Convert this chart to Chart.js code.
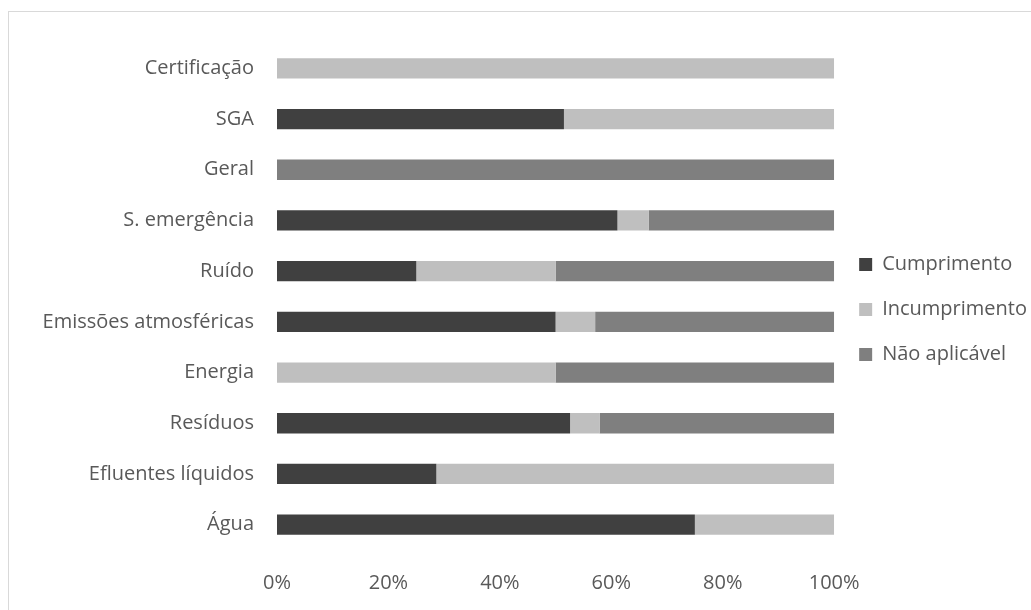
<!DOCTYPE html>
<html>
<head>
<meta charset="utf-8">
<script src="https://cdn.jsdelivr.net/npm/chart.js@4"></script>
<style>
  html, body { margin: 0; padding: 0; background: #fff; }
  #wrap { position: relative; width: 1031px; height: 610px; overflow: hidden; }
  #frame { position: absolute; left: 8px; top: 11px; width: 1040px; height: 620px; border: 1px solid #d9d9d9; box-sizing: border-box; }
  canvas { position: absolute; left: 0; top: 0; }
</style>
</head>
<body>
<div id="wrap">
  <div id="frame"></div>
  <canvas id="chart" width="1037" height="610"></canvas>
</div>
<script>
// categories, top to bottom
const categories = ["Certificação", "SGA", "Geral", "S. emergência", "Ruído",
    "Emissões atmosféricas", "Energia", "Resíduos", "Efluentes líquidos", "Água"];

// shares in %
const cumprimento   = [0, 51.5, 0, 61.1, 25, 50, 0, 52.6, 28.6, 75];
const incumprimento = [100, 48.5, 0, 5.6, 25, 7.1, 50, 5.3, 71.4, 25];
const naoAplicavel  = [0, 0, 100, 33.3, 50, 42.9, 50, 42.1, 0, 0];

const xTicks = [0, 20, 40, 60, 80, 100];

const textColor = "#595959";
const fontFamily = "'Open Sans', sans-serif";
const fontSize = 20;

// nudge the legend up a bit, the original sits above the middle
const legendShift = {
    id: "legendShift",
    afterLayout(chart) {
        const lg = chart.legend;
        if (!lg) return;
        lg.top -= 17;
        lg.bottom -= 17;
    }
};

const ctx = document.getElementById("chart").getContext("2d");

new Chart(ctx, {
    type: "bar",
    data: {
        labels: categories,
        datasets: [
            { label: "Cumprimento", data: cumprimento, backgroundColor: "#404040" },
            { label: "Incumprimento", data: incumprimento, backgroundColor: "#bfbfbf" },
            { label: "Não aplicável", data: naoAplicavel, backgroundColor: "#7f7f7f" }
        ]
    },
    options: {
        indexAxis: "y",
        responsive: false,
        animation: false,
        datasets: { bar: { barPercentage: 0.4, categoryPercentage: 1 } },
        layout: { padding: { top: 43, right: 0, bottom: 0, left: 0 } },
        scales: {
            x: {
                stacked: true,
                min: 0,
                max: 100,
                afterBuildTicks: function (scale) {
                    scale.ticks = xTicks.map(v => ({ value: v }));
                },
                afterFit: function (scale) { scale.height = 60; },
                grid: { display: false, drawTicks: false },
                border: { display: false },
                ticks: {
                    padding: 21,
                    color: textColor,
                    font: { family: fontFamily, size: fontSize },
                    callback: v => v + "%"
                }
            },
            y: {
                stacked: true,
                afterFit: function (scale) { scale.width = 277; },
                grid: { display: false, drawTicks: false },
                border: { display: false },
                ticks: {
                    padding: 23,
                    color: textColor,
                    font: { family: fontFamily, size: fontSize }
                }
            }
        },
        plugins: {
            legend: {
                position: "right",
                labels: {
                    boxWidth: 13,
                    boxHeight: 13,
                    padding: 25,
                    color: textColor,
                    font: { family: fontFamily, size: fontSize }
                }
            },
            tooltip: { enabled: false }
        }
    },
    plugins: [legendShift]
});
</script>
</body>
</html>
